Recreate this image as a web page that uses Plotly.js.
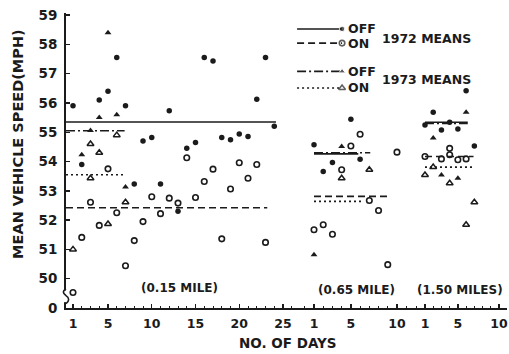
<!DOCTYPE html>
<html><head><meta charset="utf-8">
<script src="https://cdn.plot.ly/plotly-3.0.1.min.js"></script>
<style>html,body{margin:0;padding:0;background:#fff}#chart{width:509px;height:354px}</style>
</head><body><div id="chart"></div>
<script>
// ---------- tick labels ----------
const yTickVals = [49, 50, 51, 52, 53, 54, 55, 56, 57, 58, 59];
const yTickText = ['0', '50', '51', '52', '53', '54', '55', '56', '57', '58', '59'];
const seg1TickVals = [1, 5, 10, 15, 20, 25];
const seg1TickText = ['1', '5', '10', '15', '20', '25'];
const seg2TickVals = [1, 5, 10];
const seg2TickText = ['1', '5', '10'];
const seg3TickVals = [1, 5, 10];
const seg3TickText = ['1', '5', '10'];
const segmentLabels = ['(0.15 MILE)', '(0.65 MILE)', '(1.50 MILES)'];

// ---------- segment 1 (0.15 mile) ----------
const s1Off72Days = [1, 2, 4, 5, 6, 7, 8, 9, 10, 11, 12, 13, 14, 15, 16, 17, 18, 19, 20, 21, 22, 23, 24];
const s1Off72 = [55.9, 53.9, 56.1, 56.4, 57.55, 55.9, 53.23, 54.7, 54.82, 53.23, 55.73, 52.3, 54.45, 54.65, 57.55, 57.43, 54.82, 54.74, 54.94, 54.85, 56.13, 57.55, 55.2];
const s1On72Days = [1, 2, 3, 4, 5, 6, 7, 8, 9, 10, 11, 12, 13, 14, 15, 16, 17, 18, 19, 20, 21, 22, 23];
const s1On72 = [49.53, 51.41, 52.61, 51.82, 53.75, 52.25, 50.44, 51.3, 51.95, 52.8, 52.22, 52.75, 52.58, 54.13, 52.77, 53.32, 53.74, 51.36, 53.06, 53.96, 53.43, 53.9, 51.24];
const s1Off73Days = [2, 3, 4, 5, 6, 7];
const s1Off73 = [54.23, 55.06, 55.5, 58.4, 55.6, 53.13];
const s1On73Days = [1, 3, 3, 4, 5, 6, 7];
const s1On73 = [51.0, 54.6, 53.43, 54.3, 51.87, 54.9, 52.61];

// ---------- segment 2 (0.65 mile) ----------
const s2Off72Days = [1, 2, 3, 5, 6];
const s2Off72 = [54.57, 53.66, 53.97, 55.44, 54.08];
const s2On72Days = [1, 2, 3, 4, 5, 6, 7, 8, 9, 10];
const s2On72 = [51.67, 51.84, 51.52, 53.72, 54.53, 54.93, 52.67, 52.33, 50.48, 54.32];
const s2Off73Days = [1, 4];
const s2Off73 = [50.82, 54.51];
const s2On73Days = [4, 7];
const s2On73 = [53.43, 53.72];

// ---------- segment 3 (1.50 miles) ----------
const s3Off72Days = [1, 2, 3, 4, 5, 6, 7];
const s3Off72 = [55.25, 55.68, 55.08, 55.34, 55.11, 56.42, 54.53];
const s3On72Days = [1, 3, 4, 4, 5, 6];
const s3On72 = [54.17, 54.09, 54.23, 54.45, 54.06, 54.09];
const s3Off73Days = [2, 3, 5, 6];
const s3Off73 = [54.8, 53.54, 53.43, 55.68];
const s3On73Days = [1, 2, 4, 6, 7];
const s3On73 = [53.54, 53.81, 53.26, 51.84, 52.61];

// ---------- means (per segment) and the day span each mean line covers ----------
const meanOff1972 = [55.35, 54.26, 55.34];
const meanOn1972 = [52.42, 52.81, 54.17];
const meanOff1973 = [55.05, 54.3, 55.3];
const meanOn1973 = [53.55, 52.64, 53.81];
const spanOff1972 = [[0.2, 24.2], [1, 5.8], [1, 6.2]];
const spanOn1972 = [[0.2, 23.2], [1, 9.2], [1, 6.9]];
const spanOff1973 = [[0.2, 6.9], [1, 7.1], [1, 6.2]];
const spanOn1973 = [[0.2, 7.0], [1, 6.2], [1, 6.9]];

// ---------- styling ----------
const INK = '#1b1b1b';
const FONT = 'DejaVu Sans';
const series = [
  {name: 'OFF 1972', dash: 'solid', marker: {symbol: 'circle', size: 5.5, color: INK}},
  {name: 'ON 1972', dash: '7px,4px', marker: {symbol: 'circle-open', size: 5.5, color: INK, line: {width: 1.6, color: INK}}},
  {name: 'OFF 1973', dash: '9px,3px,2px,3px', marker: {symbol: 'triangle-up', size: 6, color: INK}},
  {name: 'ON 1973', dash: '2px,3px', marker: {symbol: 'triangle-up-open', size: 6, color: INK, line: {width: 1.5, color: INK}}}
];
const segData = [
  [[s1Off72Days, s1Off72], [s1On72Days, s1On72], [s1Off73Days, s1Off73], [s1On73Days, s1On73]],
  [[s2Off72Days, s2Off72], [s2On72Days, s2On72], [s2Off73Days, s2Off73], [s2On73Days, s2On73]],
  [[s3Off72Days, s3Off72], [s3On72Days, s3On72], [s3Off73Days, s3Off73], [s3On73Days, s3On73]]
];
const means = [meanOff1972, meanOn1972, meanOff1973, meanOn1973];
const spans = [spanOff1972, spanOn1972, spanOff1973, spanOn1973];
const xAxes = ['x', 'x2', 'x3'];

const traces = [];
for (let s = 0; s < 3; s++) {
  for (let k = 0; k < 4; k++) {
    traces.push({
      type: 'scatter', mode: 'lines', xaxis: xAxes[s], yaxis: 'y',
      x: spans[k][s], y: [means[k][s], means[k][s]],
      line: {color: INK, width: 1.6, dash: series[k].dash},
      hoverinfo: 'skip', showlegend: false, cliponaxis: false
    });
  }
  for (let k = 0; k < 4; k++) {
    traces.push({
      type: 'scatter', mode: 'markers', xaxis: xAxes[s], yaxis: 'y',
      x: segData[s][k][0], y: segData[s][k][1],
      marker: series[k].marker, name: series[k].name, showlegend: false, cliponaxis: false
    });
  }
}

// ---------- hand-built key (hidden 0..1 axes over the plot area) ----------
const keyRowsY = [0.946, 0.898, 0.802, 0.746];
const keyLineX = [0.524, 0.626];
for (let k = 0; k < 4; k++) {
  traces.push({
    type: 'scatter', mode: 'lines+markers', xaxis: 'x4', yaxis: 'y2',
    x: keyLineX, y: [keyRowsY[k], keyRowsY[k]],
    line: {color: INK, width: 1.6, dash: series[k].dash},
    marker: Object.assign({}, series[k].marker, {size: [0, series[k].marker.size]}),
    hoverinfo: 'skip', showlegend: false
  });
}
const keyText = ['OFF', 'ON', 'OFF', 'ON'];

const annotations = [];
for (let k = 0; k < 4; k++) {
  annotations.push({xref: 'paper', yref: 'paper', x: 0.634, y: keyRowsY[k], text: keyText[k],
    showarrow: false, xanchor: 'left', yanchor: 'middle', font: {family: FONT, size: 12.5, color: INK, weight: 'bold'}});
}
annotations.push({xref: 'paper', yref: 'paper', x: 0.712, y: 0.915, text: '1972 MEANS', showarrow: false,
  xanchor: 'left', yanchor: 'middle', font: {family: FONT, size: 12.5, color: INK, weight: 'bold'}});
annotations.push({xref: 'paper', yref: 'paper', x: 0.712, y: 0.773, text: '1973 MEANS', showarrow: false,
  xanchor: 'left', yanchor: 'middle', font: {family: FONT, size: 12.5, color: INK, weight: 'bold'}});
const segLabelX = [0.2585, 0.6576, 0.8934];
const segLabelY = [0.068, 0.061, 0.061];
for (let s = 0; s < 3; s++) {
  annotations.push({xref: 'paper', yref: 'paper', x: segLabelX[s], y: segLabelY[s], text: segmentLabels[s],
    showarrow: false, xanchor: 'center', yanchor: 'middle', font: {family: FONT, size: 12, color: INK, weight: 'bold'}});
}
annotations.push({xref: 'paper', yref: 'paper', x: -0.109, y: 0.556, text: 'MEAN VEHICLE SPEED(MPH)', textangle: -90,
  showarrow: false, xanchor: 'center', yanchor: 'middle', font: {family: FONT, size: 14.5, color: INK, weight: 'bold'}});
annotations.push({xref: 'paper', yref: 'paper', x: 0.5034, y: -0.119, text: 'NO. OF DAYS',
  showarrow: false, xanchor: 'center', yanchor: 'middle', font: {family: FONT, size: 13.5, color: INK, weight: 'bold'}});

function xAxis(domain, range, vals, text) {
  return {
    domain: domain, range: range, anchor: 'y', showgrid: false, zeroline: false,
    showline: true, linecolor: INK, linewidth: 2,
    ticks: 'inside', ticklen: 4, tickwidth: 1.4, tickcolor: INK,
    tickvals: vals, ticktext: text, ticklabelstandoff: 3, ticklabeloverflow: 'allow',
    tickfont: {family: FONT, size: 12.5, color: INK, weight: 'bold'},
    minor: {dtick: 1, tick0: 0, ticks: 'inside', ticklen: 2.5, tickwidth: 1, tickcolor: INK}
  };
}

const layout = {
  width: 509, height: 354,
  margin: {l: 66, r: 2, t: 13, b: 46},
  paper_bgcolor: '#ffffff', plot_bgcolor: 'rgba(0,0,0,0)',
  showlegend: false,
  xaxis: xAxis([0, 0.5306], [0.2, 26.94], seg1TickVals, seg1TickText),
  xaxis2: xAxis([0.5306, 0.7823], [-0.52, 11.52], seg2TickVals, seg2TickText),
  xaxis3: xAxis([0.7823, 1], [-0.70, 10.97], seg3TickVals, seg3TickText),
  xaxis4: {domain: [0, 1], range: [0, 1], anchor: 'y2', visible: false, fixedrange: true},
  yaxis: {
    domain: [0, 1], range: [49, 59.07], anchor: 'x', showgrid: false, zeroline: false,
    showline: true, linecolor: INK, linewidth: 2,
    ticks: 'inside', ticklen: 4, tickwidth: 1.4, tickcolor: INK,
    tickvals: yTickVals, ticktext: yTickText, ticklabelstandoff: 4,
    tickfont: {family: FONT, size: 13.5, color: INK, weight: 'bold'}
  },
  yaxis2: {domain: [0, 1], range: [0, 1], anchor: 'x4', visible: false, fixedrange: true},
  annotations: annotations,
  shapes: [
    {type: 'rect', xref: 'paper', yref: 'y', x0: -0.006, x1: 0.006, y0: 49.2, y1: 49.6,
      fillcolor: '#ffffff', line: {width: 0}, layer: 'above'},
    {type: 'path', xref: 'paper', yref: 'y', layer: 'above',
      path: 'M 0,49.65 Q -0.012,49.55 0,49.42 Q 0.012,49.3 0,49.15',
      line: {color: INK, width: 1.6}}
  ]
};

Plotly.newPlot('chart', traces, layout, {staticPlot: true, displayModeBar: false});
</script></body></html>
